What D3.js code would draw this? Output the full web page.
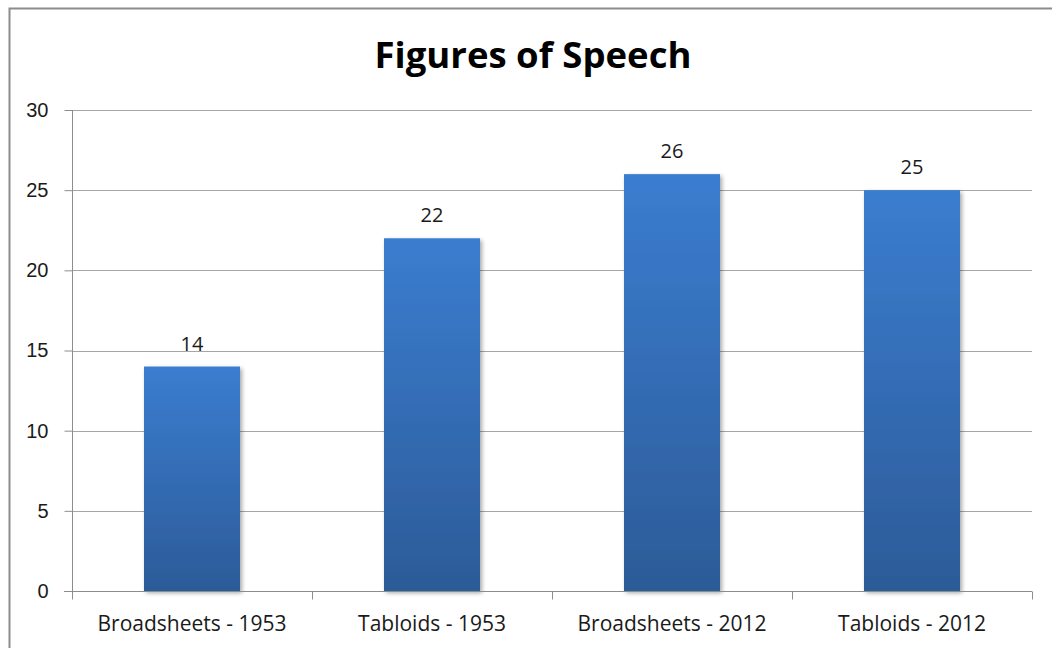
<!DOCTYPE html>
<html lang="en">
<head>
<meta charset="utf-8">
<title>Figures of Speech</title>
<script src="https://d3js.org/d3.v7.min.js"></script>
<style>
body { margin: 0; background: #fff; font-family: "Open Sans", sans-serif; }
.tick text { font-size: 20px; fill: #1a1a1a; }
</style>
</head>
<body>
<div id="chart"></div>
<script>
const categories = ["Broadsheets - 1953", "Tabloids - 1953", "Broadsheets - 2012", "Tabloids - 2012"];
const values = [14, 22, 26, 25];
const yTicks = [0, 5, 10, 15, 20, 25, 30];

const width = 1052, height = 648;
const margin = {top: 110, right: 20, bottom: 57, left: 72};

const svg = d3.select("#chart").append("svg")
    .attr("width", width)
    .attr("height", height);

// gradient for the bars
const defs = svg.append("defs");
const grad = defs.append("linearGradient")
    .attr("id", "barGrad")
    .attr("x1", 0).attr("y1", 0).attr("x2", 0).attr("y2", 1);
grad.append("stop").attr("offset", "0%").attr("stop-color", "#3b7dd0");
grad.append("stop").attr("offset", "100%").attr("stop-color", "#2c5b98");

const shadow = defs.append("filter").attr("id", "shadow")
    .attr("x", "-10%").attr("y", "-10%").attr("width", "130%").attr("height", "130%");
shadow.append("feDropShadow")
    .attr("dx", 2).attr("dy", 2).attr("stdDeviation", 2)
    .attr("flood-color", "#000").attr("flood-opacity", 0.35);

// chart border
svg.append("rect")
    .attr("x", 9.5).attr("y", 8.5)
    .attr("width", 1060).attr("height", 660)
    .attr("fill", "none")
    .attr("stroke", "#8c8c8c")
    .attr("stroke-width", 2);

const x = d3.scaleBand()
    .domain(categories)
    .range([margin.left, 1032])
    .paddingInner(0.6)
    .paddingOuter(0.3);

const y = d3.scaleLinear()
    .domain([0, 30])
    .range([591, margin.top]);

// gridlines
svg.append("g")
    .selectAll("line")
    .data(yTicks.filter(d => d > 0))
    .join("line")
    .attr("x1", margin.left).attr("x2", 1032)
    .attr("y1", d => Math.round(y(d)) + 0.5).attr("y2", d => Math.round(y(d)) + 0.5)
    .attr("stroke", "#a6a6a6")
    .attr("stroke-width", 1);

// bars
svg.append("g")
    .selectAll("rect")
    .data(values)
    .join("rect")
    .attr("x", (d, i) => x(categories[i]))
    .attr("y", d => y(d))
    .attr("width", x.bandwidth())
    .attr("height", d => y(0) - y(d))
    .attr("fill", "url(#barGrad)")
    .attr("filter", "url(#shadow)");

// value labels
svg.append("g")
    .selectAll("text")
    .data(values)
    .join("text")
    .attr("x", (d, i) => x(categories[i]) + x.bandwidth() / 2)
    .attr("y", d => y(d) - 16)
    .attr("text-anchor", "middle")
    .attr("font-size", 20)
    .attr("fill", "#1a1a1a")
    .text(d => d);

// y axis
const yAxis = svg.append("g")
    .attr("transform", `translate(${margin.left + 0.5},0)`)
    .call(d3.axisLeft(y).tickValues(yTicks).tickSize(8).tickPadding(16));
yAxis.selectAll("line, path").attr("stroke", "#8c8c8c");
yAxis.select(".domain").attr("d", `M0,${y(30)}V${y(0)}`);

// x axis with category boundary ticks
const xAxis = svg.append("g")
    .attr("transform", `translate(0,${y(0) + 0.5})`);
xAxis.append("line")
    .attr("x1", margin.left - 8).attr("x2", 1032)
    .attr("stroke", "#8c8c8c");
const step = (1032 - margin.left) / categories.length;
xAxis.selectAll(".bound")
    .data(d3.range(categories.length + 1))
    .join("line")
    .attr("class", "bound")
    .attr("x1", i => Math.round(margin.left + i * step) + 0.5)
    .attr("x2", i => Math.round(margin.left + i * step) + 0.5)
    .attr("y1", 0).attr("y2", 8)
    .attr("stroke", "#8c8c8c");
xAxis.selectAll(".lbl")
    .data(categories)
    .join("text")
    .attr("class", "lbl")
    .attr("x", d => x(d) + x.bandwidth() / 2)
    .attr("y", 39)
    .attr("text-anchor", "middle")
    .attr("font-size", 21)
    .attr("fill", "#1a1a1a")
    .text(d => d);

// title
svg.append("text")
    .attr("x", 533)
    .attr("y", 68)
    .attr("text-anchor", "middle")
    .attr("font-size", 36.5)
    .attr("font-weight", "bold")
    .attr("fill", "#000")
    .text("Figures of Speech");
</script>
</body>
</html>
